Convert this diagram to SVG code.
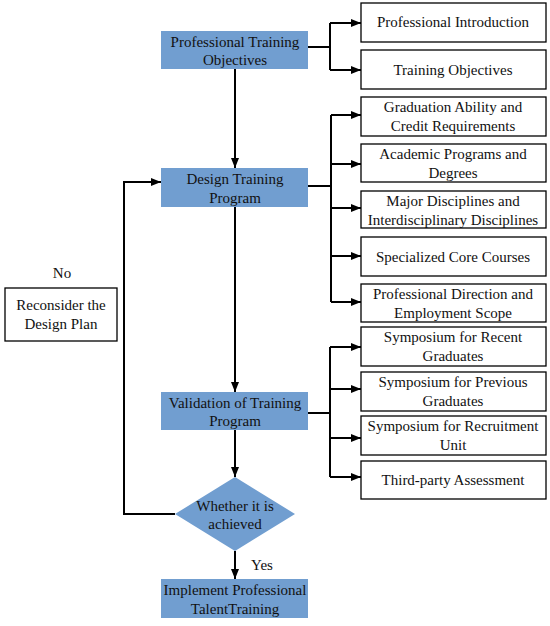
<svg xmlns="http://www.w3.org/2000/svg" width="550" height="626" viewBox="0 0 550 626">
<defs>
<marker id="ah" markerWidth="10" markerHeight="8" refX="10" refY="4" orient="auto" markerUnits="userSpaceOnUse">
<path d="M0,0 L10,4 L0,8 Z" fill="#000"/>
</marker>
<style>
.blue{fill:#719ed0;stroke:none}
.wbox{fill:#fff;stroke:#000;stroke-width:1.3}
.c{fill:none;stroke:#000;stroke-width:2}
.a{fill:none;stroke:#000;stroke-width:2;marker-end:url(#ah)}
</style>
</defs>
<rect width="550" height="626" fill="#fff"/>
<g id="connectors">
<path class="c" d="M308,47 H330 M330,23 V70"/>
<path class="a" d="M330,23 H361"/>
<path class="a" d="M330,70 H361"/>
<path class="a" d="M235,69 V168"/>
<path class="c" d="M308,186 H331 M331,115 V302"/>
<path class="a" d="M331,115 H361"/>
<path class="a" d="M331,164 H361"/>
<path class="a" d="M331,208 H361"/>
<path class="a" d="M331,256 H361"/>
<path class="a" d="M331,302 H361"/>
<path class="a" d="M235,207 V392"/>
<path class="c" d="M308,413 H330 M330,347 V477"/>
<path class="a" d="M330,347 H361"/>
<path class="a" d="M330,389 H361"/>
<path class="a" d="M330,438 H361"/>
<path class="a" d="M330,477 H361"/>
<path class="a" d="M235,430 V477"/>
<path class="a" d="M235,551 V579"/>
<path class="a" d="M175,514 H124 V182 H161"/>
<text font-family="Liberation Serif" font-size="15" fill="#111" text-anchor="middle" x="262" y="570">Yes</text>
<text font-family="Liberation Serif" font-size="15" fill="#111" text-anchor="middle" x="62" y="278">No</text>
</g>
<g id="n1"><rect class="blue" x="161" y="31" width="147" height="38"/><text font-family="Liberation Serif" font-size="15" fill="#111" text-anchor="middle" x="235" y="47">Professional Training</text><text font-family="Liberation Serif" font-size="15" fill="#111" text-anchor="middle" x="235" y="65">Objectives</text></g>
<g id="n2"><rect class="blue" x="161" y="168" width="147" height="39"/><text font-family="Liberation Serif" font-size="15" fill="#111" text-anchor="middle" x="235" y="184">Design Training</text><text font-family="Liberation Serif" font-size="15" fill="#111" text-anchor="middle" x="235" y="203">Program</text></g>
<g id="n3"><rect class="blue" x="161" y="392" width="147" height="38"/><text font-family="Liberation Serif" font-size="15" fill="#111" text-anchor="middle" x="235" y="408">Validation of Training</text><text font-family="Liberation Serif" font-size="15" fill="#111" text-anchor="middle" x="235" y="426">Program</text></g>
<g id="n4"><polygon class="blue" points="235,477 295,514 235,551 175,514"/><text font-family="Liberation Serif" font-size="15" fill="#111" text-anchor="middle" x="235" y="511">Whether it is</text><text font-family="Liberation Serif" font-size="15" fill="#111" text-anchor="middle" x="235" y="529">achieved</text></g>
<g id="n5"><rect class="blue" x="161" y="579" width="147" height="39"/><text font-family="Liberation Serif" font-size="15" fill="#111" text-anchor="middle" x="235" y="595">Implement Professional</text><text font-family="Liberation Serif" font-size="15" fill="#111" text-anchor="middle" x="235" y="614">TalentTraining</text></g>
<g id="n6"><rect class="wbox" x="5" y="288" width="112" height="53"/><text font-family="Liberation Serif" font-size="15" fill="#111" text-anchor="middle" x="61" y="310">Reconsider the</text><text font-family="Liberation Serif" font-size="15" fill="#111" text-anchor="middle" x="61" y="329">Design Plan</text></g>
<g id="r1"><rect class="wbox" x="361" y="3" width="185" height="39"/><text font-family="Liberation Serif" font-size="15" fill="#111" text-anchor="middle" x="453" y="27">Professional Introduction</text></g>
<g id="r2"><rect class="wbox" x="361" y="50" width="185" height="39"/><text font-family="Liberation Serif" font-size="15" fill="#111" text-anchor="middle" x="453" y="75">Training Objectives</text></g>
<g id="r3"><rect class="wbox" x="361" y="97" width="185" height="39"/><text font-family="Liberation Serif" font-size="15" fill="#111" text-anchor="middle" x="453" y="112">Graduation Ability and</text><text font-family="Liberation Serif" font-size="15" fill="#111" text-anchor="middle" x="453" y="131">Credit Requirements</text></g>
<g id="r4"><rect class="wbox" x="361" y="144" width="185" height="38"/><text font-family="Liberation Serif" font-size="15" fill="#111" text-anchor="middle" x="453" y="159">Academic Programs and</text><text font-family="Liberation Serif" font-size="15" fill="#111" text-anchor="middle" x="453" y="178">Degrees</text></g>
<g id="r5"><rect class="wbox" x="361" y="191" width="185" height="37"/><text font-family="Liberation Serif" font-size="15" fill="#111" text-anchor="middle" x="453" y="206">Major Disciplines and</text><text font-family="Liberation Serif" font-size="15" fill="#111" text-anchor="middle" x="453" y="225">Interdisciplinary Disciplines</text></g>
<g id="r6"><rect class="wbox" x="361" y="237" width="185" height="39"/><text font-family="Liberation Serif" font-size="15" fill="#111" text-anchor="middle" x="453" y="262">Specialized Core Courses</text></g>
<g id="r7"><rect class="wbox" x="361" y="284" width="185" height="38"/><text font-family="Liberation Serif" font-size="15" fill="#111" text-anchor="middle" x="453" y="299">Professional Direction and</text><text font-family="Liberation Serif" font-size="15" fill="#111" text-anchor="middle" x="453" y="318">Employment Scope</text></g>
<g id="r8"><rect class="wbox" x="361" y="327" width="185" height="39"/><text font-family="Liberation Serif" font-size="15" fill="#111" text-anchor="middle" x="453" y="342">Symposium for Recent</text><text font-family="Liberation Serif" font-size="15" fill="#111" text-anchor="middle" x="453" y="361">Graduates</text></g>
<g id="r9"><rect class="wbox" x="361" y="372" width="185" height="39"/><text font-family="Liberation Serif" font-size="15" fill="#111" text-anchor="middle" x="453" y="387">Symposium for Previous</text><text font-family="Liberation Serif" font-size="15" fill="#111" text-anchor="middle" x="453" y="406">Graduates</text></g>
<g id="r10"><rect class="wbox" x="361" y="416" width="185" height="39"/><text font-family="Liberation Serif" font-size="15" fill="#111" text-anchor="middle" x="453" y="431">Symposium for Recruitment</text><text font-family="Liberation Serif" font-size="15" fill="#111" text-anchor="middle" x="453" y="450">Unit</text></g>
<g id="r11"><rect class="wbox" x="361" y="461" width="185" height="38"/><text font-family="Liberation Serif" font-size="15" fill="#111" text-anchor="middle" x="453" y="485">Third-party Assessment</text></g>
</svg>
